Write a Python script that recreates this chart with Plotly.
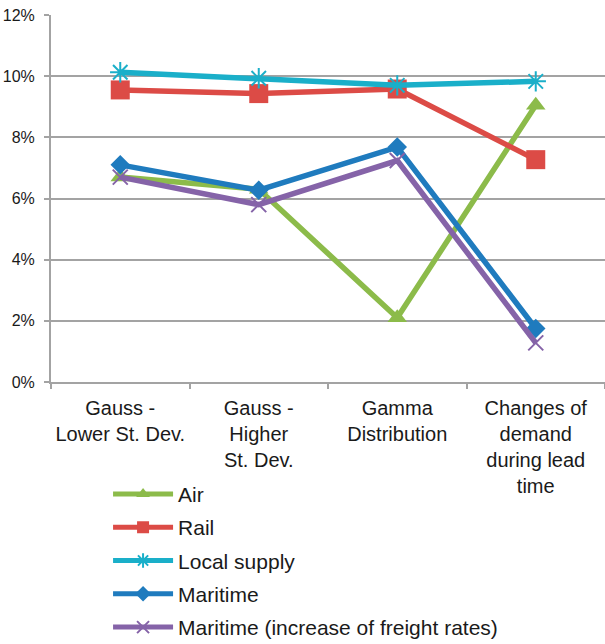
import plotly.graph_objects as go

categories = [
    "Gauss -<br>Lower St. Dev.",
    "Gauss -<br>Higher<br>St. Dev.",
    "Gamma<br>Distribution",
    "Changes of<br>demand<br>during lead<br>time",
]

air = [0.067, 0.063, 0.021, 0.0905]
rail = [0.0955, 0.0943, 0.0958, 0.0727]
local_supply = [0.1013, 0.0993, 0.0970, 0.0983]
maritime = [0.0710, 0.0627, 0.0768, 0.0175]
maritime_freight = [0.0670, 0.0580, 0.0724, 0.0128]

series = [
    ("Air", air, "#8CBB4A", "triangle-up", 17, 0),
    ("Rail", rail, "#DC4B46", "square", 19, 0),
    ("Local supply", local_supply, "#1AAFC9", "asterisk-open", 17, 2),
    ("Maritime", maritime, "#1F7BBE", "diamond", 15, 0),
    ("Maritime (increase of freight rates)", maritime_freight, "#8563A8", "x-thin-open", 15, 2),
]

fig = go.Figure()
for i, (name, vals, color, symbol, size, lw) in enumerate(series):
    fig.add_trace(go.Scatter(
        x=categories,
        y=vals,
        name=name,
        legendgroup=f"g{i}",
        mode="lines+markers",
        line=dict(color=color, width=5.5),
        marker=dict(symbol=symbol, size=size, color=color,
                    line=dict(color=color, width=lw)),
    ))

grid_color = "#A3A3A3"
fig.update_layout(
    width=605,
    height=644,
    margin=dict(l=51, r=0, t=15, b=262, autoexpand=False),
    paper_bgcolor="white",
    plot_bgcolor="white",
    font=dict(family="Liberation Sans, Arial, sans-serif", color="#1a1a1a"),
    showlegend=True,
    legend=dict(
        x=0.103, y=-0.25,
        xanchor="left", yanchor="top",
        font=dict(size=21),
        traceorder="grouped",
        tracegroupgap=3,
        itemsizing="constant",
        itemwidth=60,
        bgcolor="rgba(0,0,0,0)",
    ),
    xaxis=dict(
        type="category",
        range=[-0.5, 3.5],
        showgrid=False,
        showline=True,
        linecolor=grid_color,
        linewidth=2,
        ticks="outside",
        tickson="boundaries",
        ticklen=5,
        tickwidth=1.5,
        tickcolor=grid_color,
        tickfont=dict(size=20),
        tickangle=0,
        ticklabelstandoff=7,
        fixedrange=True,
    ),
    yaxis=dict(
        range=[0, 0.12],
        dtick=0.02,
        tickformat=".0%",
        showgrid=True,
        gridcolor=grid_color,
        gridwidth=1.5,
        zeroline=False,
        showline=True,
        linecolor=grid_color,
        linewidth=2,
        ticks="outside",
        ticklen=5,
        tickwidth=1.5,
        tickcolor=grid_color,
        tickfont=dict(size=16),
        ticklabelstandoff=6,
        fixedrange=True,
    ),
)

fig.write_html("out.html")
